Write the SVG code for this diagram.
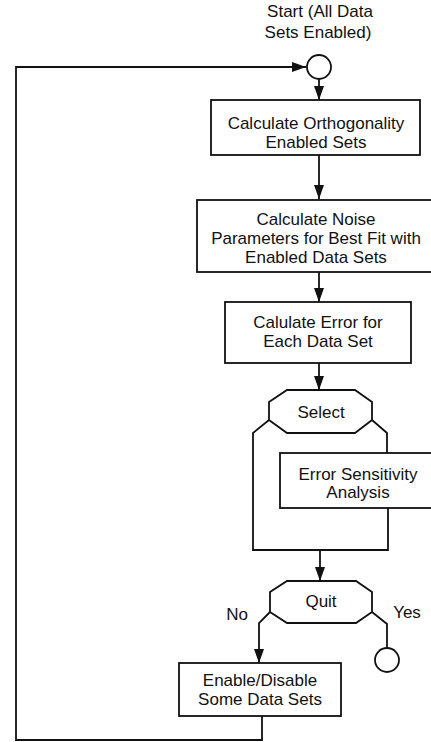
<svg xmlns="http://www.w3.org/2000/svg" width="431" height="742" viewBox="0 0 431 742">
  <style>
    .box { fill: #fff; stroke: #111; stroke-width: 1.8; }
    .ln { fill: none; stroke: #111; stroke-width: 1.8; }
    .t { font-family: "Liberation Sans", Arial, Helvetica, sans-serif; font-size: 17px; fill: #111; text-anchor: middle; }
  </style>
  <defs>
    <marker id="arrow" markerUnits="userSpaceOnUse" markerWidth="15" markerHeight="11" refX="14" refY="5" orient="auto">
      <path d="M0,0 L14,5 L0,10 z" fill="#111"/>
    </marker>
  </defs>
  <rect width="431" height="742" fill="#fff"/>

  <!-- connectors -->
  <g id="connectors">
    <path class="ln" d="M262,716 V740 H16 V67 H306" marker-end="url(#arrow)"/>
    <path class="ln" d="M319,79 V100" marker-end="url(#arrow)"/>
    <path class="ln" d="M319,155 V199" marker-end="url(#arrow)"/>
    <path class="ln" d="M319,272 V302" marker-end="url(#arrow)"/>
    <path class="ln" d="M319,363 V390" marker-end="url(#arrow)"/>
    <path class="ln" d="M269,420 L253,433 V550 H388 V508"/>
    <path class="ln" d="M372,420 L387,433 V453"/>
    <path class="ln" d="M320,550 V581" marker-end="url(#arrow)"/>
    <path class="ln" d="M270,612 L259,623 V663" marker-end="url(#arrow)"/>
    <path class="ln" d="M372,612 L387,624 V648"/>
  </g>

  <!-- start terminal -->
  <g id="start">
    <text class="t" x="320" y="17">Start (All Data</text>
    <text class="t" x="318" y="38">Sets Enabled)</text>
    <circle class="box" cx="319" cy="67" r="12"/>
  </g>

  <g id="orthogonality">
    <rect class="box" x="211" y="100" width="209" height="55"/>
    <text class="t" x="316" y="129">Calculate Orthogonality</text>
    <text class="t" x="316" y="148">Enabled Sets</text>
  </g>

  <g id="noise">
    <rect class="box" x="197" y="200" width="250" height="72"/>
    <text class="t" x="316" y="225">Calculate Noise</text>
    <text class="t" x="316" y="244">Parameters for Best Fit with</text>
    <text class="t" x="316" y="263">Enabled Data Sets</text>
  </g>

  <g id="error">
    <rect class="box" x="225" y="302" width="186" height="61"/>
    <text class="t" x="318" y="328">Calulate Error for</text>
    <text class="t" x="318" y="347">Each Data Set</text>
  </g>

  <g id="select">
    <path class="box" d="M287,390 H355 L372,402 V420 L355,433 H287 L269,420 V402 z"/>
    <text class="t" x="321" y="418">Select</text>
  </g>

  <g id="sensitivity">
    <rect class="box" x="280" y="453" width="160" height="55"/>
    <text class="t" x="358" y="480">Error Sensitivity</text>
    <text class="t" x="358" y="498">Analysis</text>
  </g>

  <g id="quit">
    <path class="box" d="M287,581 H356 L372,592 V612 L356,623 H287 L270,612 V592 z"/>
    <text class="t" x="321" y="607">Quit</text>
    <text class="t" x="237" y="620">No</text>
    <text class="t" x="407" y="618">Yes</text>
  </g>

  <g id="end">
    <circle class="box" cx="387" cy="660" r="12"/>
  </g>

  <g id="enable">
    <rect class="box" x="179" y="663" width="162" height="53"/>
    <text class="t" x="260" y="686">Enable/Disable</text>
    <text class="t" x="260" y="705">Some Data Sets</text>
  </g>
</svg>
